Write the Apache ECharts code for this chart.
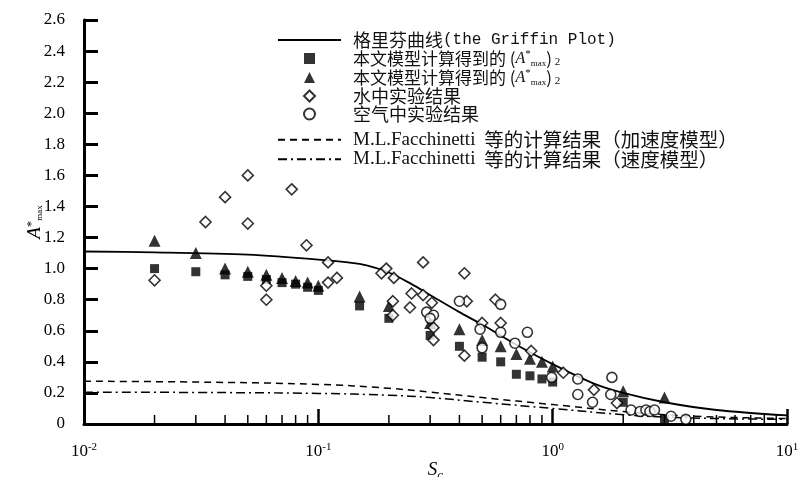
<!DOCTYPE html>
<html>
<head>
<meta charset="utf-8">
<script src="https://cdn.jsdelivr.net/npm/echarts@6/dist/echarts.min.js"></script>
<style>
  html, body { margin: 0; padding: 0; background: #fff; }
  #chart { width: 802px; height: 477px; }
</style>
</head>
<body>
<div id="chart"></div>
<script>
// Griffin plot (solid curve)
const griffinX = [0.01, 0.02, 0.05, 0.1, 0.15, 0.2, 0.25, 0.3, 0.4, 0.5, 0.7, 1.0, 1.5, 2.0, 3.0, 5.0, 10];
const griffinY = [1.11, 1.105, 1.09, 1.058, 1.03, 0.975, 0.90, 0.83, 0.72, 0.64, 0.51, 0.385, 0.26, 0.20, 0.14, 0.09, 0.055];

// Facchinetti et al. results: acceleration model (dashed) and velocity model (dash-dot)
const facX = [0.01, 0.03, 0.1, 0.2, 0.3, 0.5, 1, 2, 3, 5, 10];
const facAccelY = [0.275, 0.27, 0.255, 0.23, 0.205, 0.17, 0.125, 0.08, 0.06, 0.045, 0.035];
const facVelY = [0.205, 0.203, 0.197, 0.185, 0.17, 0.14, 0.10, 0.06, 0.045, 0.035, 0.03];

// Model results (squares and triangles)
const modelX = [0.02, 0.03, 0.04, 0.05, 0.06, 0.07, 0.08, 0.09, 0.1, 0.15, 0.2, 0.3, 0.4, 0.5, 0.6, 0.7, 0.8, 0.9, 1.0, 2.0, 3.0];
const squareY = [1.00, 0.98, 0.96, 0.95, 0.93, 0.91, 0.90, 0.88, 0.86, 0.76, 0.68, 0.57, 0.50, 0.43, 0.40, 0.32, 0.31, 0.29, 0.27, 0.14, 0.03];
const triangleY = [1.18, 1.10, 1.00, 0.98, 0.96, 0.94, 0.92, 0.91, 0.89, 0.82, 0.76, 0.65, 0.61, 0.54, 0.50, 0.45, 0.42, 0.40, 0.37, 0.21, 0.17];

// Experiments in water (diamonds)
const waterX = [0.02, 0.033, 0.04, 0.05, 0.05, 0.06, 0.06, 0.077, 0.089, 0.11, 0.11, 0.12, 0.186, 0.195, 0.21, 0.208, 0.208, 0.246, 0.25, 0.28, 0.28, 0.305, 0.31, 0.31, 0.42, 0.43, 0.42, 0.5, 0.57, 0.6, 0.81, 1.11, 1.5, 1.88];
const waterY = [0.925, 1.30, 1.46, 1.60, 1.29, 0.89, 0.80, 1.51, 1.15, 1.04, 0.91, 0.94, 0.97, 1.00, 0.94, 0.79, 0.70, 0.75, 0.84, 1.04, 0.83, 0.78, 0.62, 0.54, 0.97, 0.79, 0.44, 0.65, 0.80, 0.65, 0.47, 0.33, 0.22, 0.135];

// Experiments in air (circles)
const airX = [0.29, 0.31, 0.3, 0.4, 0.49, 0.5, 0.6, 0.6, 0.69, 0.78, 0.99, 1.28, 1.28, 1.48, 1.77, 1.79, 2.16, 2.36, 2.5, 2.6, 2.72, 3.2, 3.7];
const airY = [0.72, 0.70, 0.68, 0.79, 0.61, 0.49, 0.77, 0.59, 0.52, 0.59, 0.30, 0.29, 0.19, 0.14, 0.19, 0.30, 0.09, 0.08, 0.09, 0.08, 0.09, 0.05, 0.03];

// Axis settings
const yMin = 0, yMax = 2.6, yStep = 0.2;
const xMin = 0.01, xMax = 10;
const minorMultipliers = [2, 3, 4, 5, 6, 7, 8, 9];

const zip = (xs, ys) => xs.map((x, i) => [x, ys[i]]);

const minorTicks = [];
for (let d = xMin; d < xMax * 0.999; d *= 10) {
  minorMultipliers.forEach(m => minorTicks.push([+(d * m).toPrecision(6), 0]));
}

const SERIF = '"Liberation Serif", "DejaVu Serif", serif';
const CJK = '"Noto Sans CJK SC", sans-serif';
const MONO = '"Liberation Mono", monospace';

// Legend icons with a fixed aspect ratio
const ICON_SQUARE = 'path://M0,0H10V10H0Z';
const ICON_TRIANGLE = 'path://M5,0L10,10H0Z';
const ICON_DIAMOND = 'path://M5,0L10,5L5,10L0,5Z';
const ICON_CIRCLE = 'path://M10,5A5,5,0,1,1,0,5A5,5,0,1,1,10,5Z';

const legendRich = {
  c18: { fontFamily: CJK, fontSize: 18, color: '#111', lineHeight: 19 },
  c17: { fontFamily: CJK, fontSize: 17, color: '#111', lineHeight: 19 },
  cl: { fontFamily: CJK, fontSize: 19.5, color: '#111', lineHeight: 20 },
  m: { fontFamily: MONO, fontSize: 16, color: '#111', lineHeight: 19 },
  s: { fontFamily: SERIF, fontSize: 19, color: '#111', lineHeight: 20 },
  i: { fontFamily: SERIF, fontStyle: 'italic', fontSize: 16, color: '#111', lineHeight: 19 },
  sup: { fontFamily: SERIF, fontSize: 11, color: '#111', verticalAlign: 'top', lineHeight: 19 },
  sub: { fontFamily: SERIF, fontSize: 9, color: '#111', verticalAlign: 'bottom', lineHeight: 17 },
  sub2: { fontFamily: SERIF, fontSize: 11, color: '#111', verticalAlign: 'bottom', lineHeight: 15 }
};

const amax = '{i|A}{sup|*}{sub|max}';
const legendText = {
  griffin: '{c18|格里芬曲线}{m|(the Griffin Plot)}',
  model1: '{c17|本文模型计算得到的 (}' + amax + '{c17|)}{sub2| 2}',
  model2: '{c17|本文模型计算得到的 (}' + amax + '{c17|)}{sub2| 2}',
  water: '{c18|水中实验结果}',
  air: '{c18|空气中实验结果}',
  facAccel: '{s|M.L.Facchinetti}{cl|  等的计算结果（加速度模型）}',
  facVel: '{s|M.L.Facchinetti}{cl|  等的计算结果（速度模型）}'
};

const legendBase = {
  orient: 'vertical',
  left: 277,
  padding: 0,
  itemWidth: 63,
  itemHeight: 11,
  selectedMode: false,
  formatter: name => legendText[name],
  textStyle: { padding: [0, 0, 0, 7], rich: legendRich }
};

const chart = echarts.init(document.getElementById('chart'), null, { renderer: 'canvas' });

chart.setOption({
  backgroundColor: '#fff',
  animation: false,
  grid: { left: 84, right: 15, top: 20, bottom: 53, containLabel: false, outerBoundsMode: 'none' },
  legend: [
    Object.assign({}, legendBase, {
      top: 31,
      itemGap: 0,
      data: [
        { name: 'griffin' },
        { name: 'model1', icon: ICON_SQUARE },
        { name: 'model2', icon: ICON_TRIANGLE },
        { name: 'water', icon: ICON_DIAMOND },
        { name: 'air', icon: ICON_CIRCLE }
      ]
    }),
    Object.assign({}, legendBase, {
      top: 130,
      itemGap: 0,
      data: ['facAccel', 'facVel']
    })
  ],
  xAxis: {
    type: 'log',
    logBase: 10,
    min: xMin,
    max: xMax,
    name: '{i|S}{sub|c}',
    nameLocation: 'middle',
    nameGap: 33,
    nameMoveOverlap: false,
    nameTextStyle: {
      rich: {
        i: { fontFamily: SERIF, fontStyle: 'italic', fontSize: 19, color: '#000' },
        sub: { fontFamily: SERIF, fontStyle: 'italic', fontSize: 13, color: '#000', verticalAlign: 'bottom', padding: [12, 0, 0, 0] }
      }
    },
    axisLine: { lineStyle: { color: '#000', width: 3 } },
    axisTick: { inside: true, length: 15, lineStyle: { color: '#000', width: 2.5 } },
    splitLine: { show: false },
    axisLabel: {
      margin: 18,
      formatter: v => '{b|10}{e|' + Math.round(Math.log10(v)) + '}',
      rich: {
        b: { fontFamily: SERIF, fontSize: 17, color: '#000' },
        e: { fontFamily: SERIF, fontSize: 11, color: '#000', verticalAlign: 'top', padding: [0, 0, 8, 0] }
      }
    }
  },
  yAxis: {
    type: 'value',
    min: yMin,
    max: yMax,
    interval: yStep,
    name: '{i|A}{sup|*}{sub|max}',
    nameLocation: 'middle',
    nameRotate: 90,
    nameGap: 40,
    nameMoveOverlap: false,
    nameTextStyle: {
      rich: {
        i: { fontFamily: SERIF, fontStyle: 'italic', fontSize: 19, color: '#000' },
        sup: { fontFamily: SERIF, fontSize: 13, color: '#000', verticalAlign: 'top' },
        sub: { fontFamily: SERIF, fontSize: 9, color: '#000', verticalAlign: 'bottom' }
      }
    },
    axisLine: { show: true, lineStyle: { color: '#000', width: 3 } },
    axisTick: { inside: true, length: 14, lineStyle: { color: '#000', width: 3 } },
    splitLine: { show: false },
    axisLabel: {
      margin: 19,
      fontFamily: SERIF,
      fontSize: 17,
      color: '#000',
      formatter: v => (v === 0 ? '0' : v.toFixed(1))
    }
  },
  series: [
    {
      name: 'minorTicks',
      type: 'custom',
      silent: true,
      data: minorTicks,
      renderItem: (params, api) => {
        const p = api.coord([api.value(0), 0]);
        return {
          type: 'line',
          shape: { x1: p[0], y1: p[1], x2: p[0], y2: p[1] - 9 },
          style: { stroke: '#000', lineWidth: 1.5 }
        };
      },
      z: 1
    },
    {
      name: 'griffin',
      type: 'line',
      data: zip(griffinX, griffinY),
      smooth: 0.3,
      symbol: 'none',
      color: '#000',
      itemStyle: { opacity: 0 },
      lineStyle: { color: '#000', width: 1.8 },
      z: 2
    },
    {
      name: 'model1',
      type: 'scatter',
      data: zip(modelX, squareY),
      symbol: 'rect',
      symbolSize: 9,
      itemStyle: { color: '#000' },
      z: 4
    },
    {
      name: 'model2',
      type: 'scatter',
      data: zip(modelX, triangleY),
      symbol: 'triangle',
      symbolSize: 12,
      itemStyle: { color: '#000' },
      z: 4
    },
    {
      name: 'water',
      type: 'scatter',
      data: zip(waterX, waterY),
      symbol: 'diamond',
      symbolSize: 11,
      itemStyle: { color: '#fff', borderColor: '#000', borderWidth: 1.6 },
      z: 5
    },
    {
      name: 'air',
      type: 'scatter',
      data: zip(airX, airY),
      symbol: 'circle',
      symbolSize: 10,
      itemStyle: { color: '#fff', borderColor: '#000', borderWidth: 1.6 },
      z: 5
    },
    {
      name: 'facAccel',
      type: 'line',
      data: zip(facX, facAccelY),
      smooth: 0.4,
      symbol: 'none',
      color: '#000',
      itemStyle: { opacity: 0 },
      lineStyle: { color: '#000', width: 1.5, type: [7, 5] },
      z: 2
    },
    {
      name: 'facVel',
      type: 'line',
      data: zip(facX, facVelY),
      smooth: 0.4,
      symbol: 'none',
      color: '#000',
      itemStyle: { opacity: 0 },
      lineStyle: { color: '#000', width: 1.5, type: [9, 4, 2, 4] },
      z: 2
    }
  ]
});
</script>
</body>
</html>
